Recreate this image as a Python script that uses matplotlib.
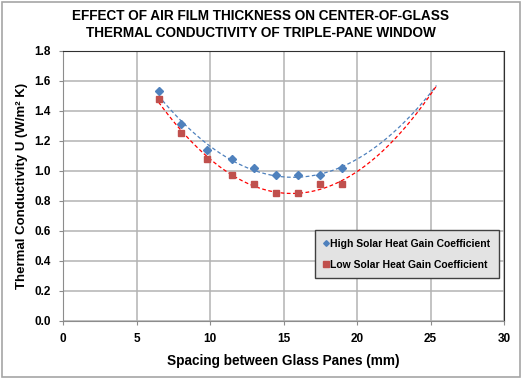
import numpy as np
import matplotlib.pyplot as plt
from matplotlib.patches import Rectangle

plt.rcParams['font.family'] = ['Liberation Sans', 'DejaVu Sans']
plt.rcParams['font.weight'] = 'bold'

spacing = [6.5, 8.0, 9.8, 11.5, 13.0, 14.5, 16.0, 17.5, 19.0]
u_high = [1.53, 1.31, 1.14, 1.08, 1.02, 0.97, 0.97, 0.97, 1.02]
u_low = [1.48, 1.25, 1.08, 0.97, 0.91, 0.85, 0.85, 0.91, 0.91]
trend_end = 25.4

fig = plt.figure(figsize=(5.22, 3.79), dpi=100)
ax = fig.add_axes([0.1207, 0.1538, 0.845, 0.7124])

fig.patches.append(Rectangle((0.003, 0.004), 0.994, 0.992, transform=fig.transFigure,
                             fill=False, edgecolor='#a6a6a6', linewidth=1.2))

xs = np.linspace(spacing[0], trend_end, 200)
for vals, col, tcol, mk, ms, lab in [
        (u_high, '#4F81BD', '#4F81BD', 'D', 3.6, 'High Solar Heat Gain Coefficient'),
        (u_low, '#C0504D', '#FF0000', 's', 5, 'Low Solar Heat Gain Coefficient')]:
    p = np.polyfit(spacing, vals, 2)
    ax.plot(xs, np.polyval(p, xs), linestyle=(0, (3, 2)), color=tcol, linewidth=0.9)
    ax.plot(spacing, vals, linestyle='none', marker=mk, markersize=ms, color=col, label=lab)

ax.set_xlim(0, 30)
ax.set_ylim(0, 1.8)
ax.set_xticks(np.arange(0, 31, 5))
ax.set_yticks(np.arange(0, 1.81, 0.2))
ax.set_yticklabels([f'{v:.1f}' for v in np.arange(0, 1.81, 0.2)])
ax.grid(True, color='#b3b3b3', linewidth=1.1)
ax.set_axisbelow(True)
for s in ax.spines.values():
    s.set_color('#303030')
ax.spines['left'].set_color('#8c8c8c')
ax.spines['bottom'].set_color('#8c8c8c')
ax.tick_params(labelsize=8.5, length=3, color='#8c8c8c', pad=6)

ax.set_xlabel('Spacing between Glass Panes (mm)', fontsize=9.8, fontweight='bold', labelpad=6)
ax.set_ylabel('Thermal Conductivity U (W/m² K)', fontsize=9.5, fontweight='bold', labelpad=4)
fig.suptitle('EFFECT OF AIR FILM THICKNESS ON CENTER-OF-GLASS\nTHERMAL CONDUCTIVITY OF TRIPLE-PANE WINDOW',
             y=0.975, fontsize=9.8, fontweight='bold', linespacing=1.2)

leg = ax.legend(loc='lower right', bbox_to_anchor=(0.995, 0.145), fontsize=7.5, frameon=True,
                fancybox=False, handlelength=0.5, handletextpad=0.2, borderpad=0.8,
                labelspacing=1.1, markerscale=0.8, borderaxespad=0.3)
leg.get_frame().set_facecolor('#e3e3e3')
leg.get_frame().set_edgecolor('#404040')
leg.get_frame().set_alpha(1)

fig.savefig('out.png', dpi=100)
